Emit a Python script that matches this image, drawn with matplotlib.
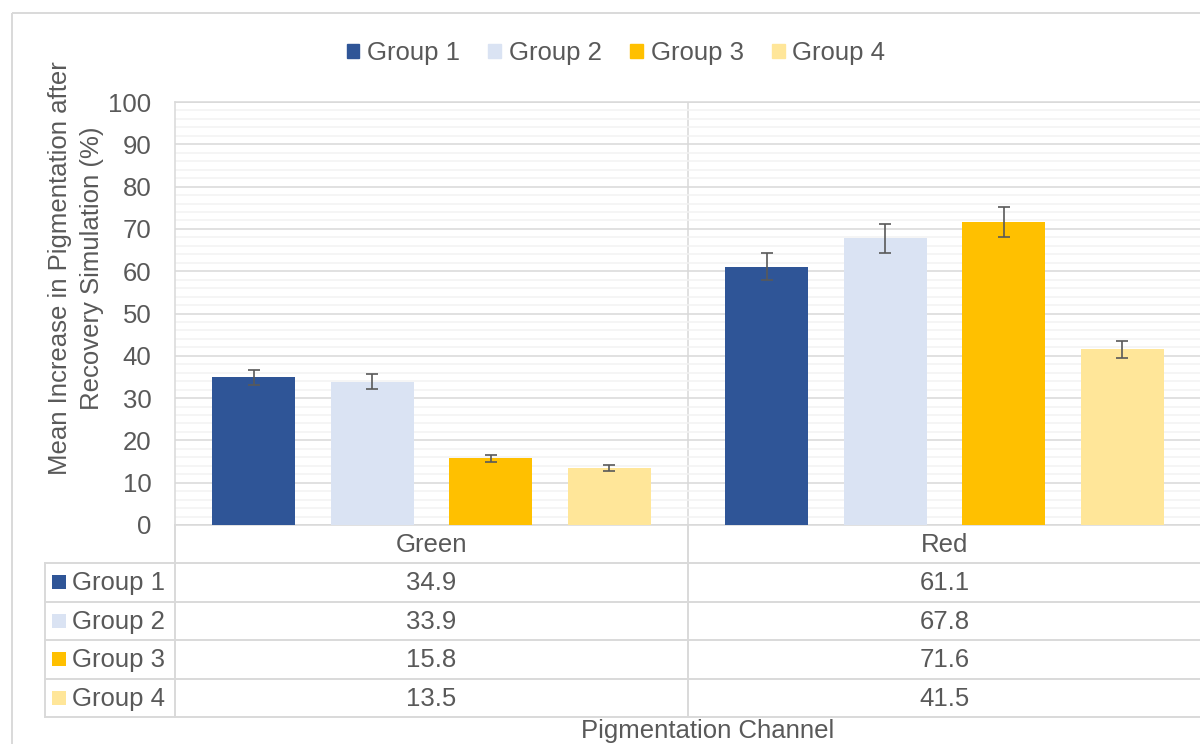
import numpy as np
import matplotlib
matplotlib.use('Agg')
import matplotlib.pyplot as plt
from matplotlib.patches import Patch, Rectangle
from matplotlib.ticker import MultipleLocator
from matplotlib.transforms import blended_transform_factory

FS = 18.5
plt.rcParams.update({
    "font.family": ["Liberation Sans", "DejaVu Sans"],
    "font.size": FS,
    "text.color": "#595959",
})

# data
channels = ['Green', 'Red']
groups = ['Group 1', 'Group 2', 'Group 3', 'Group 4']
means_g1 = [34.9, 61.1]
means_g2 = [33.9, 67.8]
means_g3 = [15.8, 71.6]
means_g4 = [13.5, 41.5]
errs_g1 = [1.8, 3.2]
errs_g2 = [1.7, 3.4]
errs_g3 = [0.85, 3.6]
errs_g4 = [0.7, 2.0]
y_ticks = list(range(0, 101, 10))

means = [means_g1, means_g2, means_g3, means_g4]
errs = [errs_g1, errs_g2, errs_g3, errs_g4]
colors = ['#2F5597', '#DAE3F3', '#FFC000', '#FFE699']
txt_c = '#595959'
grid_c = '#D9D9D9'
minor_c = '#F2F2F2'

W, H = 1200, 744
fig = plt.figure(figsize=(W / 100, H / 100), dpi=100)


def px(x0, y0, x1, y1):
    """rect from pixel box (top-left origin) to figure fraction."""
    return [x0 / W, 1 - y1 / H, (x1 - x0) / W, (y1 - y0) / H]


# overlay in pixel coords for frame + data table
ov = fig.add_axes([0, 0, 1, 1], zorder=0)
ov.set_xlim(0, W)
ov.set_ylim(H, 0)
ov.axis('off')
ov.add_patch(Rectangle((12, 13), 1400, 900, fill=False, ec=grid_c, lw=1.4))

ax = fig.add_axes(px(175, 102, 1201, 525), zorder=1)
ax.patch.set_alpha(0)

x = np.arange(len(channels))
bw = 0.162
step = 0.231
for i, g in enumerate(groups):
    ax.bar(x + (i - 1.5) * step, means[i], bw, yerr=errs[i], color=colors[i],
           label=g, zorder=3,
           error_kw=dict(ecolor=txt_c, elinewidth=1.2, capsize=4.5, capthick=1.2))

ax.set_xlim(-0.5, 1.5)
ax.set_ylim(0, 100)
ax.set_yticks(y_ticks)
ax.yaxis.set_minor_locator(MultipleLocator(2))
ax.set_xticks([])
ax.grid(which='major', axis='y', color=grid_c, lw=1.1, zorder=1)
ax.grid(which='minor', axis='y', color=minor_c, lw=1.1, zorder=0)
ax.tick_params(axis='y', which='both', length=0, pad=17, labelsize=FS, labelcolor=txt_c)
for s in ax.spines.values():
    s.set_color(grid_c)
    s.set_linewidth(1.1)
ax.spines['right'].set_visible(False)

# data table below the plot
tr = blended_transform_factory(ax.transData, ov.transData)
row_y = [563, 601.5, 640, 678.5, 717]
for y in row_y:
    ov.plot([45, 1300], [y, y], color=grid_c, lw=1.4, clip_on=False)
ov.plot([45, 45], [563, 717], color=grid_c, lw=1.4)
for xb in [-0.5, 0.5]:
    ov.plot([xb, xb], [525, 717], color=grid_c, lw=1.4, transform=tr)
ax.axvline(0.5, color=grid_c, lw=1.1, zorder=1)

for j, ch in enumerate(channels):
    ov.text(x[j], 545, ch, ha='center', va='center', transform=tr, color=txt_c)
for i, g in enumerate(groups):
    yc = (row_y[i] + row_y[i + 1]) / 2
    ov.add_patch(Rectangle((52, yc - 7), 14, 14, color=colors[i], lw=0))
    ov.text(72, yc + 1, g, ha='left', va='center', color=txt_c)
    for j in range(len(channels)):
        ov.text(x[j], yc + 1, f"{means[i][j]:.1f}", ha='center', va='center',
                transform=tr, color=txt_c)

fig.text(76 / W, 1 - 268 / H, 'Mean Increase in Pigmentation after\nRecovery Simulation (%)',
         rotation=90, ha='center', va='center', multialignment='center',
         linespacing=1.45, color=txt_c)
fig.text(708 / W, 1 - 731 / H, 'Pigmentation Channel', ha='center', va='center', color=txt_c)

handles = [Patch(color=c, label=g) for c, g in zip(colors, groups)]
fig.legend(handles=handles, loc='center', bbox_to_anchor=(616 / W, 1 - 53 / H), ncol=4,
           frameon=False, handlelength=0.5, handleheight=0.5, handletextpad=0.3,
           columnspacing=1.1, fontsize=FS, labelcolor=txt_c)

fig.savefig('out.png', dpi=100)
